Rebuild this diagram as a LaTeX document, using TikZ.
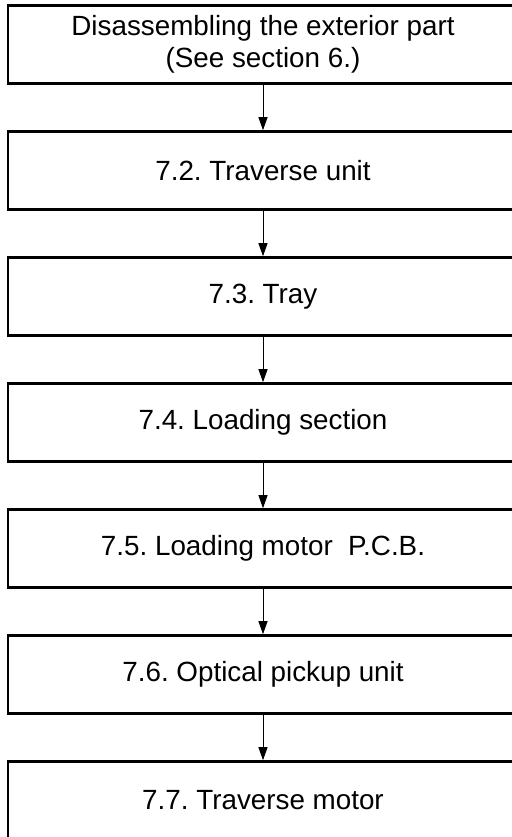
\documentclass[tikz,border=0pt]{standalone}
\usepackage{fontspec}
\setmainfont{Liberation Sans}
\frenchspacing
\usetikzlibrary{arrows.meta}

\begin{document}
\begin{tikzpicture}[
    node distance=63pt,
    every node/.style={font=\fontsize{13.9pt}{16pt}\selectfont},
    box/.style={rectangle, draw, line width=1.2pt, minimum height=39pt, minimum width=255pt, align=center},
    arr/.style={-{Triangle[length=6.5pt,width=4.5pt]}, line width=0.5pt}
]
\useasboundingbox (0,0) rectangle (256pt,-418.5pt);
\clip (0,0) rectangle (256pt,-418.5pt);
\node (exterior) [box] at (131.5pt,-22.2pt) {Disassembling the exterior part\\(See section 6.)};
\node (traverse) [box, below of=exterior] {7.2. Traverse unit};
\node (tray) [box, below of=traverse] {7.3. Tray};
\node (loading) [box, below of=tray] {7.4. Loading section};
\node (motorpcb) [box, below of=loading] {7.5. Loading motor\ \ P.C.B.};
\node (pickup) [box, below of=motorpcb] {7.6. Optical pickup unit};
\node (tmotor) [box, below of=pickup] {7.7. Traverse motor};

\draw[arr] (exterior) -- (traverse);
\draw[arr] (traverse) -- (tray);
\draw[arr] (tray) -- (loading);
\draw[arr] (loading) -- (motorpcb);
\draw[arr] (motorpcb) -- (pickup);
\draw[arr] (pickup) -- (tmotor);
\end{tikzpicture}
\end{document}
